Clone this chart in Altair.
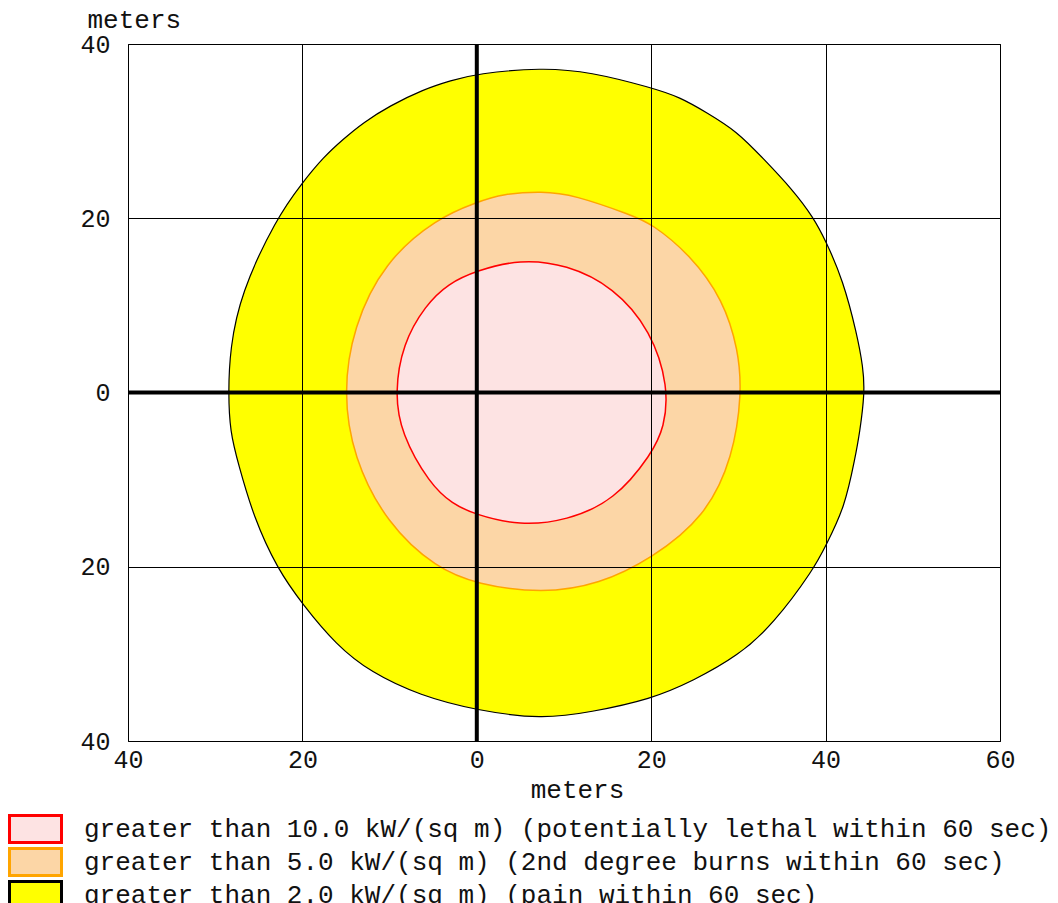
import altair as alt
import pandas as pd

# ---- data (meters) ----
LEVELS = [
    "greater than 10.0 kW/(sq m) (potentially lethal within 60 sec)",
    "greater than 5.0 kW/(sq m) (2nd degree burns within 60 sec)",
    "greater than 2.0 kW/(sq m) (pain within 60 sec)",
]
FILL_COLORS = ["#FDE3E3", "#FCD6A6", "#FFFF00"]
STROKE_COLORS = ["#FF0000", "#FFA500", "#000000"]

RED_X = [-9.4, -8.5, -5.9, -3.3, 0.0, 4.95, 10.3, 15.7, 20.0, 22.0, 21.5, 20.1,
         15.8, 10.3, 4.95, -0.2, -2.8, -5.4, -8.7]
RED_Y = [0.0, 5.6, 10.0, 12.5, 14.0, 15.3, 14.7, 12.1, 7.1, 0.6, -4.0, -7.0,
         -12.4, -14.7, -15.3, -14.0, -12.8, -10.5, -4.7]

ORANGE_X = [-15.3, -14.2, -10.6, -4.6, 0.0, 3.0, 7.5, 11.1, 17.9, 20.0, 24.4, 28.3,
            30.0, 30.4, 29.4, 26.2, 20.0, 14.1, 7.5, 0.0, -4.6, -10.3, -14.2]
ORANGE_Y = [0.0, 7.5, 15.0, 20.0, 21.85, 22.8, 23.1, 22.7, 20.3, 19.4, 15.9, 10.6,
            4.8, 0.0, -7.4, -14.3, -19.1, -22.0, -23.1, -22.0, -20.2, -15.1, -7.4]

YELLOW_X = [-28.5, -28.3, -27.1, -23.0, -20.0, -17.6, -15.3, -13.0, -10.0, -6.1, -3.0,
            0.0, 7.5, 13.0, 20.0, 23.3, 26.4, 29.8, 32.9, 36.2, 38.6, 40.0, 42.0,
            43.6, 44.3, 44.5, 43.9, 43.4, 42.2, 40.0, 38.7, 34.0, 30.0, 24.8, 20.0, 13.0, 7.5,
            0.0, -6.5, -12.2, -16.1, -20.0, -22.9, -25.6, -27.35, -28.3]
YELLOW_Y = [0.0, 5.0, 11.3, 20.0, 24.1, 27.0, 29.1, 31.0, 32.9, 34.8, 35.8,
            36.6, 37.3, 36.8, 35.0, 33.9, 32.1, 30.0, 26.8, 23.3, 20.1, 17.45, 12.9,
            6.7, 2.9, 0.0, -4.7, -7.4, -13.2, -17.6, -20.2, -26.6, -30.2, -33.1, -35.2, -36.7, -37.5,
            -36.5, -34.8, -32.1, -29.0, -24.3, -20.2, -14.3, -8.2, -4.5]

X_TICKS = [-40, -20, 0, 20, 40, 60]
Y_TICKS = [-40, -20, 0, 20, 40]
AXIS_ORIGIN = [0]

frames = []
for label, xs, ys in zip(LEVELS, [RED_X, ORANGE_X, YELLOW_X], [RED_Y, ORANGE_Y, YELLOW_Y]):
    frames.append(pd.DataFrame({"zone": label, "x": xs, "y": ys, "ord": list(range(len(xs)))}))
df = pd.concat(frames, ignore_index=True)
origin_df = pd.DataFrame({"v": AXIS_ORIGIN})

FONT = "Liberation Mono"

x_scale = alt.Scale(domain=[-40, 60], nice=False, zero=False)
y_scale = alt.Scale(domain=[-40, 40], nice=False, zero=False)

x_axis = alt.Axis(
    values=X_TICKS, labelExpr="'' + abs(datum.value)", ticks=False, domain=False,
    grid=True, gridColor="#000000", gridOpacity=1, gridWidth=1,
    labelPadding=6, labelFontSize=25, labelFlush=False, labelOverlap=False,
    title="meters", titleX=449, titleY=56, titleAlign="center",
    titleBaseline="alphabetic", titleFontSize=26, titleFontWeight="normal", zindex=1,
)
y_axis = alt.Axis(
    values=Y_TICKS, labelExpr="'' + abs(datum.value)", ticks=False, domain=False,
    grid=True, gridColor="#000000", gridOpacity=1, gridWidth=1,
    labelPadding=18, labelFontSize=25, labelFlush=False, labelOverlap=False,
    title="meters", titleAngle=0, titleX=-41, titleY=-17, titleAlign="left",
    titleBaseline="alphabetic", titleFontSize=26, titleFontWeight="normal", zindex=1,
)

legend = alt.Legend(
    orient="none", legendX=-120.5, legendY=768.75, padding=0,
    symbolType="M-2,-1.04L2,-1.04L2,1.04L-2,1.04Z", symbolSize=676,
    symbolStrokeWidth=3, symbolOpacity=1, symbolOffset=13.5, clipHeight=32.5,
    labelFontSize=26, labelOffset=34, rowPadding=0, labelLimit=1200,
)

fill = alt.Fill("zone:N", scale=alt.Scale(domain=LEVELS, range=FILL_COLORS),
                legend=legend, title=None)
stroke = alt.Stroke("zone:N", scale=alt.Scale(domain=LEVELS, range=STROKE_COLORS),
                    legend=legend, title=None)


def zone_layer(label, width):
    return (
        alt.Chart(df)
        .transform_filter(alt.datum.zone == label)
        .mark_line(interpolate="basis-closed", strokeWidth=width)
        .encode(
            x=alt.X("x:Q", scale=x_scale, axis=x_axis),
            y=alt.Y("y:Q", scale=y_scale, axis=y_axis),
            order="ord:Q",
            fill=fill,
            stroke=stroke,
        )
    )


vline = alt.Chart(origin_df).mark_rule(color="#000000", strokeWidth=4).encode(
    x=alt.X("v:Q", scale=x_scale)
)
hline = alt.Chart(origin_df).mark_rule(color="#000000", strokeWidth=4).encode(
    y=alt.Y("v:Q", scale=y_scale)
)

chart = (
    alt.layer(
        zone_layer(LEVELS[2], 1.2),
        zone_layer(LEVELS[1], 1.5),
        zone_layer(LEVELS[0], 1.5),
        vline,
        hline,
    )
    .properties(
        width=872,
        height=697,
        autosize=alt.AutoSizeParams(type="none"),
        padding={"left": 120, "top": 36, "right": 50, "bottom": 170},
        background="#FFFFFF",
    )
    .configure(font=FONT)
    .configure_view(stroke="#000000", strokeWidth=1)
    .configure_axis(labelFont=FONT, titleFont=FONT, labelColor="#111111", titleColor="#111111")
    .configure_legend(labelFont=FONT, labelColor="#111111")
)

chart.save("out.html", embed_options={"renderer": "svg", "actions": False})
